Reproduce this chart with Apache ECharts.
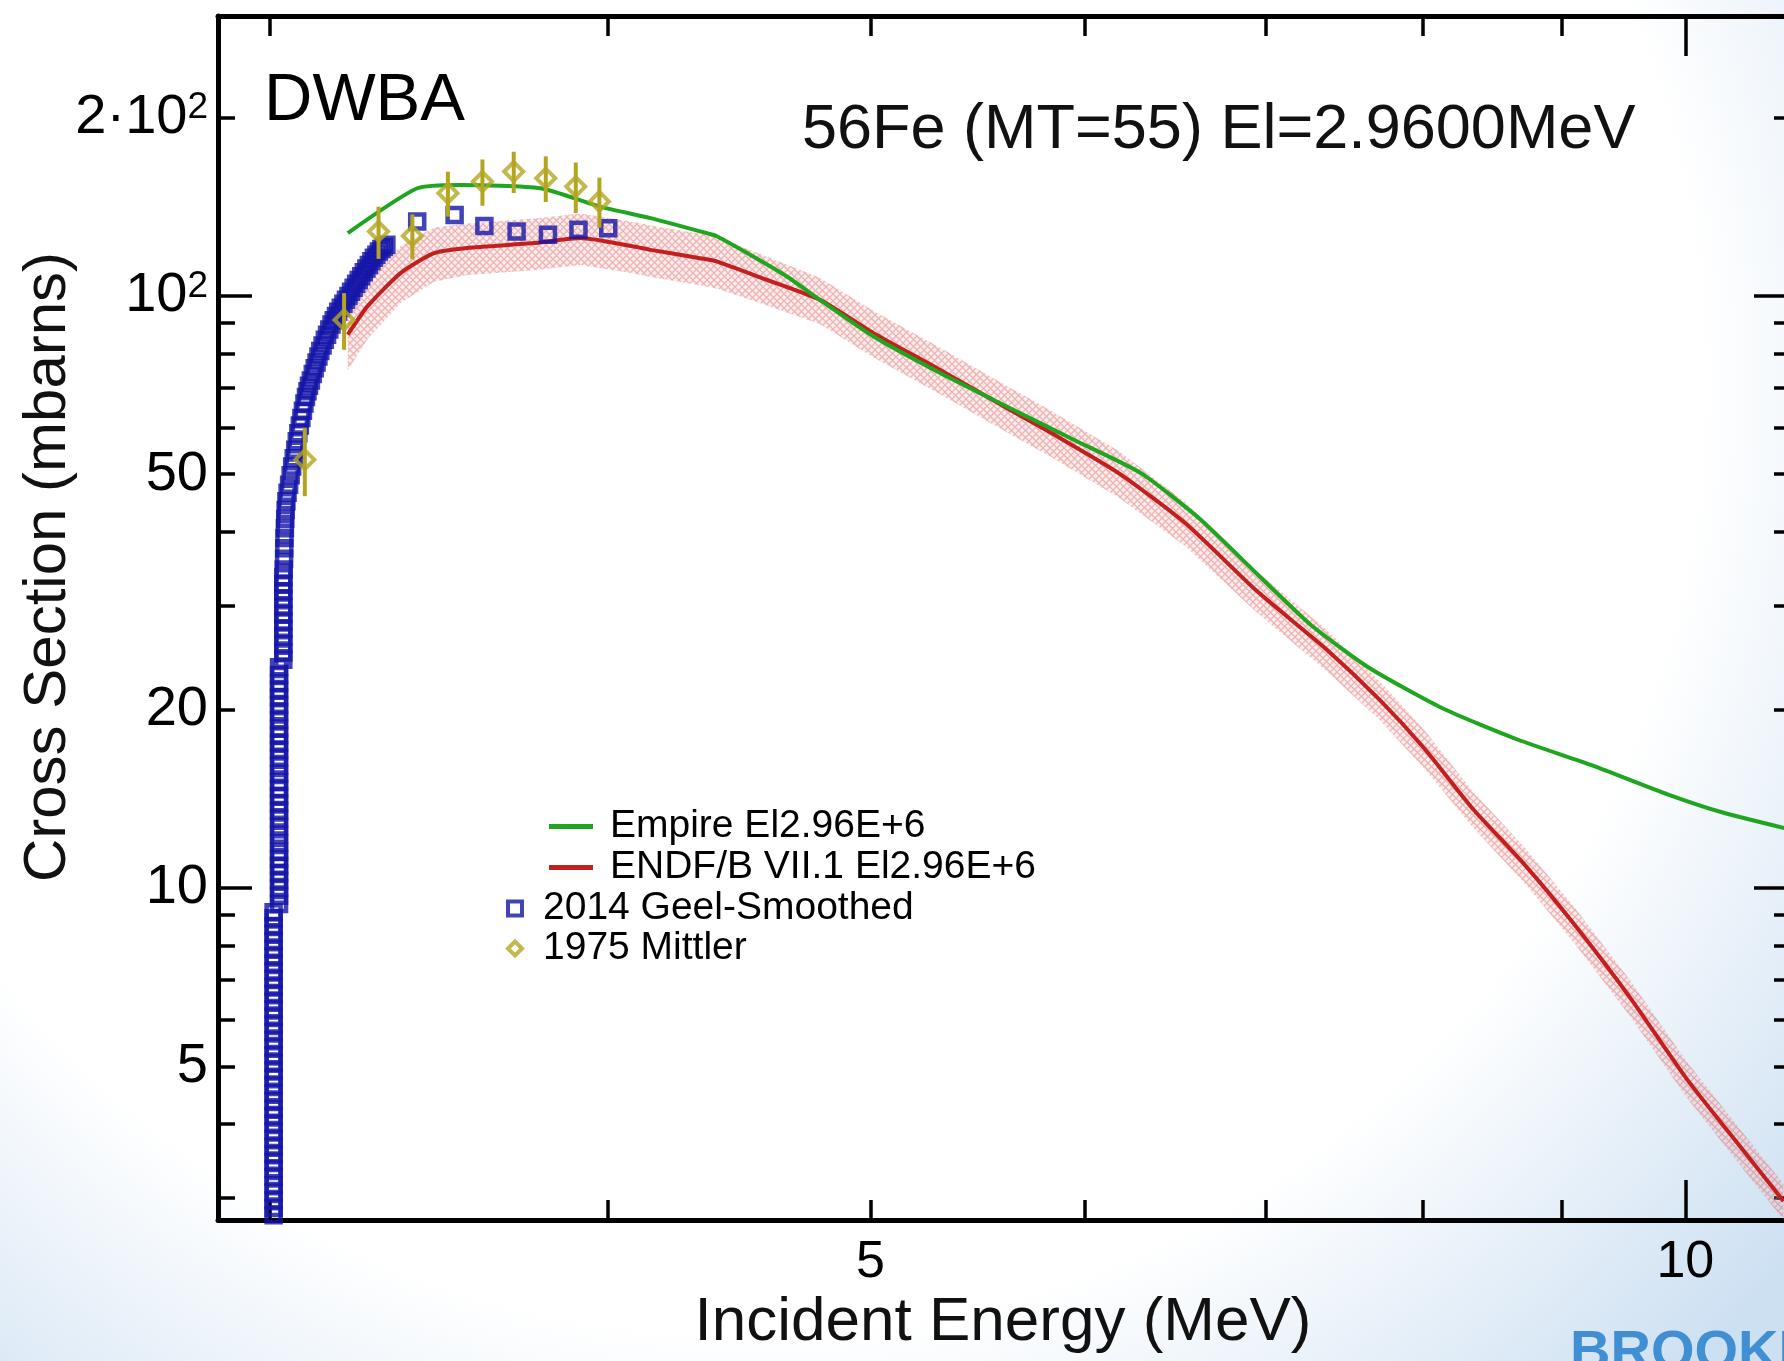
<!DOCTYPE html>
<html>
<head>
<meta charset="utf-8">
<title>56Fe (MT=55) El=2.9600MeV</title>
<script src="https://cdn.jsdelivr.net/npm/echarts@6/dist/echarts.min.js"></script>
<style>
  html, body { margin: 0; padding: 0; background: #fff; }
  #main { width: 1784px; height: 1361px; }
</style>
</head>
<body>
<div id="main"></div>
<script>
// energies in MeV, cross sections in mb
var empireE  = [3.205, 3.400, 3.527, 3.777, 3.972, 4.147, 4.325, 4.389, 4.646, 4.789, 5.013, 5.305, 5.616,
                5.946, 6.293, 6.617, 6.985, 7.280, 7.635, 8.137, 8.674, 9.243, 9.850, 10.331, 10.900];
var empireXS = [127.7, 152.0, 154.0, 152.0, 141.5, 135.3, 128.5, 126.0, 108.6, 98.5, 85.4, 74.1, 65.0,
                57.1, 50.2, 42.0, 33.1, 27.7, 23.6, 20.1, 17.8, 16.1, 14.4, 13.4, 12.6];

var endfE   = [3.205, 3.259, 3.353, 3.449, 3.548, 3.755, 3.907, 4.088, 4.147, 4.325, 4.389, 4.559, 4.789, 5.013,
               5.305, 5.616, 5.834, 6.175, 6.536, 6.947, 7.361, 7.709, 8.009, 8.347, 8.730, 9.095, 9.541,
               10.008, 10.497, 10.871];
var endfXS  = [86.0, 96.0, 109.4, 118.1, 120.5, 122.8, 125.3, 121.2, 119.6, 115.8, 114.3, 107.2, 98.5, 86.5,
               75.0, 64.6, 58.6, 50.2, 41.3, 31.7, 25.4, 20.8, 17.2, 13.6, 10.9, 8.70, 6.53,
               4.77, 3.62, 2.96];
// relative half-width of the ENDF uncertainty band
var endfUnc = [0.13, 0.12, 0.11, 0.105, 0.10, 0.10, 0.10, 0.10, 0.10, 0.10, 0.10, 0.095, 0.09, 0.09,
               0.09, 0.09, 0.09, 0.09, 0.085, 0.08, 0.08, 0.075, 0.075, 0.07, 0.07, 0.07, 0.07,
               0.07, 0.07, 0.07];

// Geel smoothed data: dense near threshold, then 0.1 MeV steps
var geelE = [
  3.009, 3.009, 3.009, 3.009, 3.009, 3.009, 3.009, 3.009, 3.009, 3.009, 3.009,
  3.009, 3.009, 3.009, 3.009, 3.009, 3.009, 3.009, 3.009, 3.009, 3.009, 3.009,
  3.009, 3.009, 3.009, 3.009, 3.009, 3.009, 3.009, 3.009, 3.009, 3.009, 3.009,
  3.009, 3.009, 3.009, 3.009, 3.009, 3.009, 3.009, 3.009,
  3.023, 3.023, 3.023, 3.023, 3.023, 3.023, 3.023, 3.023, 3.023, 3.023, 3.023,
  3.023, 3.023, 3.023, 3.023, 3.023, 3.023, 3.023, 3.023, 3.023, 3.023, 3.023,
  3.023, 3.023, 3.023, 3.023, 3.023, 3.023, 3.023, 3.023, 3.023, 3.023,
  3.034, 3.034, 3.034, 3.034, 3.034, 3.034, 3.034, 3.034, 3.034, 3.034, 3.034, 3.034,
  3.035, 3.036, 3.0365, 3.037, 3.038, 3.039, 3.040, 3.042, 3.045, 3.049, 3.053, 3.057,
  3.061, 3.065, 3.069, 3.073, 3.077, 3.081, 3.085, 3.089, 3.093, 3.097, 3.101, 3.106,
  3.111, 3.116, 3.121, 3.126, 3.131, 3.137, 3.143, 3.149, 3.155, 3.161, 3.167, 3.173,
  3.179, 3.186, 3.193, 3.200, 3.207, 3.214, 3.221, 3.228, 3.235, 3.242, 3.249, 3.256,
  3.263, 3.270, 3.277, 3.284, 3.291, 3.298, 3.305, 3.312,
  3.40, 3.51, 3.60, 3.70, 3.80, 3.90, 4.00
];
var geelXS = [
  2.8, 2.88, 2.97, 3.06, 3.15, 3.25, 3.35, 3.45, 3.55, 3.66, 3.77,
  3.88, 4.0, 4.12, 4.24, 4.37, 4.5, 4.64, 4.78, 4.92, 5.07, 5.22,
  5.38, 5.54, 5.71, 5.88, 6.06, 6.24, 6.43, 6.62, 6.82, 7.02, 7.23,
  7.45, 7.67, 7.9, 8.14, 8.38, 8.63, 8.89, 9.1,
  9.4, 9.7, 10.0, 10.3, 10.6, 10.9, 11.2, 11.5, 11.9, 12.3, 12.7,
  13.1, 13.5, 13.9, 14.3, 14.7, 15.1, 15.6, 16.1, 16.6, 17.1, 17.6,
  18.1, 18.6, 19.2, 19.8, 20.4, 21.0, 21.6, 22.2, 22.9, 23.6,
  24.3, 25.0, 25.8, 26.6, 27.4, 28.2, 29.0, 29.9, 30.8, 31.7, 32.6, 33.5,
  34.5, 36, 37.5, 39, 40.5, 42, 43.5, 45, 46.5, 48, 49.8, 51.5,
  53.2, 55, 56.8, 58.6, 60.4, 62.2, 64, 65.8, 67.5, 69, 70.5, 72,
  73.8, 75.5, 77.2, 79, 80.7, 82.5, 84.3, 86, 87.8, 89.5, 91, 92.5,
  94, 95.5, 97, 98.5, 100, 101.6, 103.2, 104.8, 106.4, 108, 109.6, 111.2,
  112.8, 114.4, 116, 117.4, 118.8, 120, 121, 122,
  133.6, 137.0, 131.3, 128.5, 126.8, 129.3, 130.1
];

var mittlerE   = [3.09, 3.195, 3.29, 3.386, 3.49, 3.594, 3.691, 3.793, 3.891, 3.97];
var mittlerXS  = [52.9, 91.1, 128.5, 126.3, 149.1, 156.0, 162.2, 158.1, 153.0, 144.4];
var mittlerErr = [7, 10, 13, 11, 13, 14, 13, 14, 15, 14];

var xTicksMinor = [3, 4, 5, 6, 7, 8, 9];
var xTicksMajor = [10];
var xLabels = [5, 10];
var yTicksMinor = [3, 4, 5, 6, 7, 8, 9, 20, 30, 40, 50, 60, 70, 80, 90, 200];
var yTicksMajor = [10, 100];
var yLabels = [5, 10, 20, 50, 100, 200];

var FONT = '"Liberation Sans", Arial, Helvetica, sans-serif';
var GREEN = '#1fa51f', RED = '#c21f1f', BLUE = '#1414a8', OLIVE = '#b3a61e';

// hatch used for the ENDF uncertainty band
var hatch = document.createElement('canvas');
hatch.width = 7; hatch.height = 7;
var hc = hatch.getContext('2d');
hc.fillStyle = 'rgba(240,170,170,0.2)';
hc.fillRect(0, 0, 7, 7);
hc.strokeStyle = 'rgba(226,120,120,0.5)';
hc.lineWidth = 1.3;
hc.beginPath();
hc.moveTo(0, 0); hc.lineTo(7, 7);
hc.moveTo(7, 0); hc.lineTo(0, 7);
hc.stroke();

function xAxisOf(pos, ticks, len, showLine, labels) {
  return {
    type: 'log', logBase: 10, min: 2.87, max: 10.95, position: pos,
    axisLine: { show: showLine, onZero: false, lineStyle: { color: '#000', width: 5 } },
    axisTick: { show: true, inside: true, length: len, customValues: ticks, lineStyle: { color: '#000', width: 3.5 } },
    axisLabel: labels ? {
      show: true, customValues: labels, margin: 17, color: '#000', fontSize: 52, fontFamily: FONT,
      formatter: function (v) { return String(Math.round(v)); }
    } : { show: false },
    splitLine: { show: false }
  };
}

function yAxisOf(pos, ticks, len, showLine, labels) {
  return {
    type: 'log', logBase: 10, min: 2.75, max: 297, position: pos,
    axisLine: { show: showLine, onZero: false, lineStyle: { color: '#000', width: 5 } },
    axisTick: { show: true, inside: true, length: len, customValues: ticks, lineStyle: { color: '#000', width: 3.5 } },
    axisLabel: labels ? {
      show: true, customValues: labels, margin: 10,
      formatter: function (v) {
        var r = Math.round(v);
        if (r === 100) return '{n|10}{s|2}';
        if (r === 200) return '{n|2·10}{s|2}';
        return '{n|' + r + '}';
      },
      rich: {
        n: { fontSize: 56, fontFamily: FONT, color: '#000' },
        s: { fontSize: 37, fontFamily: FONT, color: '#000', verticalAlign: 'top' }
      }
    } : { show: false },
    splitLine: { show: false }
  };
}

var chart = echarts.init(document.getElementById('main'));

chart.setOption({
  animation: false,
  grid: { left: 218, top: 16, right: -8, bottom: 141, containLabel: false, outerBoundsMode: 'none' },
  xAxis: [
    xAxisOf('bottom', xTicksMajor, 40, true, xLabels),
    xAxisOf('bottom', xTicksMinor, 20, false, null),
    xAxisOf('top', xTicksMajor, 40, true, null),
    xAxisOf('top', xTicksMinor, 20, false, null)
  ],
  yAxis: [
    yAxisOf('left', yTicksMajor, 34, true, yLabels),
    yAxisOf('left', yTicksMinor, 17, false, null),
    yAxisOf('right', yTicksMajor, 38, true, null),
    yAxisOf('right', yTicksMinor, 18, false, null)
  ],
  legend: [
    {
      left: 544, top: 802, orient: 'vertical', selectedMode: false,
      itemWidth: 44, itemHeight: 5, itemGap: 2, icon: 'rect',
      textStyle: { fontSize: 39, fontFamily: FONT, color: '#000', padding: [0, 0, 0, 12] },
      data: ['Empire El2.96E+6', 'ENDF/B VII.1 El2.96E+6']
    },
    {
      left: 501, top: 884, orient: 'vertical', selectedMode: false,
      itemWidth: 14, itemHeight: 14, itemGap: 1,
      textStyle: { fontSize: 39, fontFamily: FONT, color: '#000', padding: [0, 0, 0, 16] },
      data: [
        { name: '2014 Geel-Smoothed', icon: 'rect', itemStyle: { color: 'rgba(0,0,0,0)', borderColor: BLUE, borderWidth: 4 } },
        { name: '1975 Mittler', icon: 'diamond', itemStyle: { color: 'rgba(0,0,0,0)', borderColor: OLIVE, borderWidth: 4 } }
      ]
    }
  ],
  graphic: [
    {
      type: 'rect', z: -100, silent: true,
      shape: { x: 0, y: 0, width: 1784, height: 1361 },
      style: {
        fill: new echarts.graphic.RadialGradient(0.42, 0.28, 1.0, [
          { offset: 0, color: '#ffffff' },
          { offset: 0.7, color: '#ffffff' },
          { offset: 1, color: '#cde0f2' }
        ])
      }
    },
    {
      type: 'text', x: 264, y: 102, silent: true,
      style: { text: 'DWBA', fontSize: 67, fontFamily: FONT, fill: '#000',
               align: 'left', verticalAlign: 'middle', textAlign: 'left', textVerticalAlign: 'middle' }
    },
    {
      type: 'text', x: 802, y: 131, silent: true,
      style: { text: '56Fe (MT=55) El=2.9600MeV', fontSize: 63, fontFamily: FONT, fill: '#111',
               align: 'left', verticalAlign: 'middle', textAlign: 'left', textVerticalAlign: 'middle' }
    },
    {
      type: 'text', x: 48, y: 567, rotation: Math.PI / 2, silent: true,
      style: { text: 'Cross Section (mbarns)', fontSize: 60, fontFamily: FONT, fill: '#111',
               align: 'center', verticalAlign: 'middle', textAlign: 'center', textVerticalAlign: 'middle' }
    },
    {
      type: 'text', x: 1003, y: 1323, silent: true,
      style: { text: 'Incident Energy (MeV)', fontSize: 62, fontFamily: FONT, fill: '#111',
               align: 'center', verticalAlign: 'middle', textAlign: 'center', textVerticalAlign: 'middle' }
    },
    {
      type: 'text', x: 1570, y: 1326, silent: true,
      style: { text: 'BROOKHAVEN', fontSize: 56, fontWeight: 'bold', fontFamily: FONT, fill: '#3f8fd2',
               align: 'left', verticalAlign: 'top', textAlign: 'left', textVerticalAlign: 'top' }
    }
  ],
  series: [
    {
      // ENDF uncertainty band
      type: 'custom', silent: true, z: 1,
      data: [[endfE[0], endfXS[0]]],
      renderItem: function (params, api) {
        var pts = [];
        for (var i = 0; i < endfE.length; i++) {
          pts.push(api.coord([endfE[i], endfXS[i] * (1 + endfUnc[i])]));
        }
        for (var j = endfE.length - 1; j >= 0; j--) {
          pts.push(api.coord([endfE[j], endfXS[j] * (1 - endfUnc[j])]));
        }
        var cs = params.coordSys;
        return {
          type: 'polygon',
          shape: { points: pts },
          style: { fill: { image: hatch, repeat: 'repeat' } },
          clipPath: { type: 'rect', shape: { x: cs.x, y: cs.y, width: cs.width, height: cs.height } }
        };
      }
    },
    {
      name: 'ENDF/B VII.1 El2.96E+6', type: 'line', z: 3, color: RED,
      symbol: 'none', smooth: 0.2,
      lineStyle: { color: RED, width: 4 },
      data: endfE.map(function (e, i) { return [e, endfXS[i]]; })
    },
    {
      name: 'Empire El2.96E+6', type: 'line', z: 4, color: GREEN,
      symbol: 'none', smooth: 0.2,
      lineStyle: { color: GREEN, width: 4 },
      data: empireE.map(function (e, i) { return [e, empireXS[i]]; })
    },
    {
      name: '2014 Geel-Smoothed', type: 'scatter', z: 5, color: BLUE,
      symbol: 'rect', symbolSize: 14,
      itemStyle: { color: 'rgba(0,0,0,0)', borderColor: BLUE, borderWidth: 4.5 },
      data: geelE.map(function (e, i) { return [e, geelXS[i]]; })
    },
    {
      // Mittler error bars
      type: 'custom', z: 6, silent: true,
      data: mittlerE.map(function (e, i) { return [e, mittlerXS[i] - mittlerErr[i], mittlerXS[i] + mittlerErr[i]]; }),
      renderItem: function (params, api) {
        var a = api.coord([api.value(0), api.value(1)]);
        var b = api.coord([api.value(0), api.value(2)]);
        return {
          type: 'line',
          shape: { x1: a[0], y1: a[1], x2: b[0], y2: b[1] },
          style: { stroke: OLIVE, lineWidth: 4 }
        };
      }
    },
    {
      name: '1975 Mittler', type: 'scatter', z: 7, color: OLIVE,
      symbol: 'diamond', symbolSize: 19,
      itemStyle: { color: 'rgba(0,0,0,0)', borderColor: OLIVE, borderWidth: 4 },
      data: mittlerE.map(function (e, i) { return [e, mittlerXS[i]]; })
    }
  ]
});
</script>
</body>
</html>
